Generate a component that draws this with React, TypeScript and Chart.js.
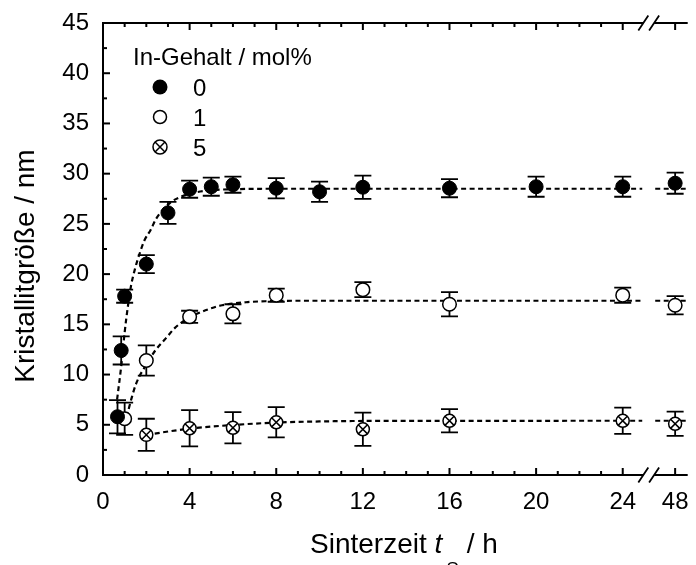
import React, { useEffect, useRef } from "react";
import { Chart, registerables } from "chart.js";

Chart.register(...registerables);

// ---------- data ----------
// sintering time in hours
const times0 = [0.67, 0.84, 1, 2, 3, 4, 5, 6, 8, 10, 12, 16, 20, 24, 48];
const size0 = [5.8, 12.4, 17.8, 21.0, 26.1, 28.45, 28.7, 28.9, 28.55, 28.2, 28.65, 28.55, 28.7, 28.7, 29.05];
const err0 = [1.65, 1.4, 0.65, 0.9, 1.1, 0.85, 0.9, 0.8, 1.0, 1.0, 1.15, 0.9, 1.0, 1.0, 1.05];

const times1 = [1, 2, 4, 6, 8, 12, 16, 24, 48];
const size1 = [5.6, 11.4, 15.75, 16.05, 17.9, 18.45, 17.0, 17.9, 16.9];
const err1 = [1.6, 1.5, 0.6, 0.95, 0.65, 0.75, 1.2, 0.75, 0.9];

const times5 = [2, 4, 6, 8, 12, 16, 24, 48];
const size5 = [4.0, 4.65, 4.7, 5.25, 4.55, 5.4, 5.4, 5.1];
const err5 = [1.6, 1.8, 1.55, 1.5, 1.65, 1.15, 1.3, 1.2];

// dashed fit curves (null = axis break gap)
const fit0T = [0.65, 0.85, 1.0, 1.15, 1.3, 1.5, 1.7, 1.9, 2.2, 2.45, 3.1, 3.6, 4.2, 5, 6, 8, 24.9, 30, 38.8, 54];
const fit0V = [7.5, 11.0, 14.2, 16.8, 18.9, 20.7, 22.1, 23.3, 24.4, 25.5, 27.1, 27.7, 28.1, 28.35, 28.45, 28.5, 28.5, null, 28.5, 28.5];

const fit1T = [1.05, 1.15, 1.3, 1.53, 2.0, 2.45, 2.9, 3.3, 3.7, 4.0, 4.5, 5.0, 5.5, 6.6, 7.5, 9, 24.9, 30, 38.8, 54];
const fit1V = [5.8, 6.3, 7.5, 9.1, 11.0, 12.5, 13.6, 14.6, 15.3, 15.7, 16.2, 16.6, 16.9, 17.2, 17.3, 17.35, 17.35, null, 17.35, 17.35];

const fit5T = [2.0, 4, 6, 8, 10, 12, 24.9, 30, 38.8, 54];
const fit5V = [4.0, 4.62, 4.98, 5.22, 5.33, 5.38, 5.4, null, 5.4, 5.4];

const legendTitle = "In-Gehalt / mol%";
const legendLabels = ["0", "1", "5"];
const xTickHours = [0, 4, 8, 12, 16, 20, 24, 48];
const yTitle = "Kristallitgröße / nm";

// ---------- axis break config ----------
const BREAK_HOUR = 48;
const BREAK_POS = 26.42;
const AFTER_SCALE = 0.1;
const BREAK_MARK_POS = 25.2;
const X_MAX = 27;
const toPos = (h: number) => (h < 36 ? h : BREAK_POS + (h - BREAK_HOUR) * AFTER_SCALE);

const FONT = "'Liberation Sans', Arial, Helvetica, sans-serif";

const pts = (t: number[], v: (number | null)[]) => t.map((h, i) => ({ x: toPos(h), y: v[i] }));

export default function App() {
  const ref = useRef<HTMLCanvasElement>(null);

  useEffect(() => {
    const canvas = ref.current!;

    const errorBars = {
      id: "errorBars",
      beforeDatasetsDraw(chart: any) {
        const { ctx, scales } = chart;
        const xs = scales.x, ys = scales.y;
        ctx.save();
        ctx.strokeStyle = "#000";
        ctx.lineWidth = 1.8;
        const sets: [number[], number[], number[]][] = [
          [times0, size0, err0],
          [times1, size1, err1],
          [times5, size5, err5],
        ];
        for (const [t, v, e] of sets) {
          t.forEach((h, i) => {
            const px = xs.getPixelForValue(toPos(h));
            const top = ys.getPixelForValue(v[i] + e[i]);
            const bot = ys.getPixelForValue(v[i] - e[i]);
            ctx.beginPath();
            ctx.moveTo(px, top);
            ctx.lineTo(px, bot);
            ctx.moveTo(px - 8.5, top);
            ctx.lineTo(px + 8.5, top);
            ctx.moveTo(px - 8.5, bot);
            ctx.lineTo(px + 8.5, bot);
            ctx.stroke();
          });
        }
        ctx.restore();
      },
    };

    const frame = {
      id: "frame",
      afterDraw(chart: any) {
        const { ctx, chartArea: ca, scales } = chart;
        const xs = scales.x, ys = scales.y;
        ctx.save();
        ctx.strokeStyle = "#000";
        ctx.lineWidth = 2;
        ctx.lineCap = "butt";
        // axis lines
        ctx.beginPath();
        ctx.moveTo(ca.left, ca.top);
        ctx.lineTo(ca.left, ca.bottom);
        ctx.moveTo(ca.left - 1, ca.bottom);
        ctx.lineTo(ca.right, ca.bottom);
        ctx.moveTo(ca.left - 1, ca.top);
        ctx.lineTo(ca.right, ca.top);
        ctx.stroke();
        // y ticks
        for (let v = 0; v <= 45.001; v += 2.5) {
          const py = ys.getPixelForValue(v);
          const len = Math.abs(v % 5) < 0.01 ? 7 : 4;
          ctx.beginPath();
          ctx.moveTo(ca.left, py);
          ctx.lineTo(ca.left + len, py);
          ctx.stroke();
        }
        // x ticks (bottom & top)
        const xt: [number, number][] = [];
        for (let h = 0; h <= 24; h++) xt.push([h, h % 4 === 0 ? 7 : 4]);
        xt.push([BREAK_HOUR, 7]);
        for (const [h, len] of xt) {
          const px = xs.getPixelForValue(toPos(h));
          ctx.beginPath();
          ctx.moveTo(px, ca.bottom);
          ctx.lineTo(px, ca.bottom - len);
          ctx.moveTo(px, ca.top);
          ctx.lineTo(px, ca.top + len);
          ctx.stroke();
        }
        // axis break marks
        const bx = xs.getPixelForValue(BREAK_MARK_POS);
        for (const yy of [ca.top, ca.bottom]) {
          ctx.fillStyle = "#fff";
          ctx.fillRect(bx - 5.4, yy - 1.5, 10.8, 3);
          ctx.lineWidth = 1.8;
          ctx.beginPath();
          for (const off of [-5.4, 5.4]) {
            ctx.moveTo(bx + off - 5, yy + 7.5);
            ctx.lineTo(bx + off + 5, yy - 7.5);
          }
          ctx.stroke();
        }
        // axis titles
        ctx.fillStyle = "#000";
        ctx.font = `28px ${FONT}`;
        ctx.save();
        ctx.translate(34, 266);
        ctx.rotate(-Math.PI / 2);
        ctx.textAlign = "center";
        ctx.textBaseline = "alphabetic";
        ctx.fillText(yTitle, 0, 0);
        ctx.restore();

        ctx.textAlign = "left";
        ctx.textBaseline = "alphabetic";
        let x = 310;
        const base = 553;
        ctx.font = `28px ${FONT}`;
        ctx.fillText("Sinterzeit ", x, base);
        x += ctx.measureText("Sinterzeit ").width;
        ctx.font = `italic 28px ${FONT}`;
        ctx.fillText("t", x, base);
        x += ctx.measureText("t").width + 4;
        ctx.font = `19px ${FONT}`;
        ctx.fillText("S", x, base + 22);
        x += ctx.measureText("S").width;
        ctx.font = `28px ${FONT}`;
        ctx.fillText(" / h", x, base);

        // legend
        ctx.font = `24px ${FONT}`;
        ctx.fillText(legendTitle, 133, 65);
        const rows = [87, 117, 147];
        // filled
        ctx.beginPath();
        ctx.arc(160, rows[0], 7.5, 0, Math.PI * 2);
        ctx.fillStyle = "#000";
        ctx.fill();
        // open
        ctx.beginPath();
        ctx.arc(160, rows[1], 6.5, 0, Math.PI * 2);
        ctx.fillStyle = "#fff";
        ctx.fill();
        ctx.lineWidth = 1.5;
        ctx.strokeStyle = "#000";
        ctx.stroke();
        // crossed
        ctx.beginPath();
        ctx.arc(160, rows[2], 7, 0, Math.PI * 2);
        ctx.fill();
        ctx.stroke();
        const d = 7 * Math.SQRT1_2;
        ctx.beginPath();
        ctx.moveTo(160 - d, rows[2] - d);
        ctx.lineTo(160 + d, rows[2] + d);
        ctx.moveTo(160 + d, rows[2] - d);
        ctx.lineTo(160 - d, rows[2] + d);
        ctx.stroke();
        ctx.fillStyle = "#000";
        ctx.font = `24px ${FONT}`;
        legendLabels.forEach((l, i) => ctx.fillText(l, 193, rows[i] + 8.5));
        ctx.restore();
      },
    };

    const dashed = {
      type: "line" as const,
      showLine: true,
      borderColor: "#000",
      borderWidth: 2.2,
      borderDash: [5, 3.5],
      pointRadius: 0,
      fill: false,
      spanGaps: false,
      cubicInterpolationMode: "monotone" as const,
    };

    const chart = new Chart(canvas, {
      type: "scatter",
      data: {
        datasets: [
          {
            label: "5x",
            data: pts(times5, size5),
            pointStyle: "crossRot",
            pointRadius: 6.5,
            borderColor: "#000",
            borderWidth: 1.5,
          },
          {
            label: "0",
            data: pts(times0, size0),
            pointStyle: "circle",
            pointRadius: 7,
            backgroundColor: "#000",
            borderColor: "#000",
            borderWidth: 1,
          },
          {
            label: "1",
            data: pts(times1, size1),
            pointStyle: "circle",
            pointRadius: 6.8,
            backgroundColor: "#fff",
            borderColor: "#000",
            borderWidth: 1.5,
          },
          {
            label: "5",
            data: pts(times5, size5),
            pointStyle: "circle",
            pointRadius: 6.5,
            backgroundColor: "#fff",
            borderColor: "#000",
            borderWidth: 1.5,
          },
          { ...dashed, label: "fit0", data: pts(fit0T, fit0V) } as any,
          { ...dashed, label: "fit1", data: pts(fit1T, fit1V) } as any,
          { ...dashed, label: "fit5", data: pts(fit5T, fit5V) } as any,
        ],
      },
      options: {
        animation: false,
        responsive: false,
        maintainAspectRatio: false,
        devicePixelRatio: 1,
        events: [],
        layout: { padding: { top: 23, left: 0, right: 0, bottom: 0 } },
        plugins: { legend: { display: false }, tooltip: { enabled: false } },
        scales: {
          x: {
            type: "linear",
            min: 0,
            max: X_MAX,
            grid: { display: false },
            border: { display: false },
            afterFit: (s: any) => {
              s.height = 90;
            },
            afterBuildTicks: (s: any) => {
              s.ticks = xTickHours.map((h) => ({ value: toPos(h) }));
            },
            ticks: {
              autoSkip: false,
              maxRotation: 0,
              padding: 5,
              color: "#000",
              font: { family: FONT, size: 24 },
              callback: (v: any) => {
                const idx = xTickHours.findIndex((h) => Math.abs(toPos(h) - v) < 1e-6);
                return idx >= 0 ? String(xTickHours[idx]) : "";
              },
            },
          },
          y: {
            type: "linear",
            min: 0,
            max: 45,
            grid: { display: false },
            border: { display: false },
            afterFit: (s: any) => {
              s.width = 103;
            },
            ticks: {
              stepSize: 5,
              padding: 6,
              color: "#000",
              font: { family: FONT, size: 24 },
            },
          },
        },
      },
      plugins: [errorBars, frame],
    } as any);

    return () => chart.destroy();
  }, []);

  return (
    <div style={{ position: "absolute", left: 0, top: 0, width: 696, height: 565, background: "#fff" }}>
      <canvas ref={ref} width={696} height={565} style={{ display: "block", width: 696, height: 565 }} />
    </div>
  );
}
